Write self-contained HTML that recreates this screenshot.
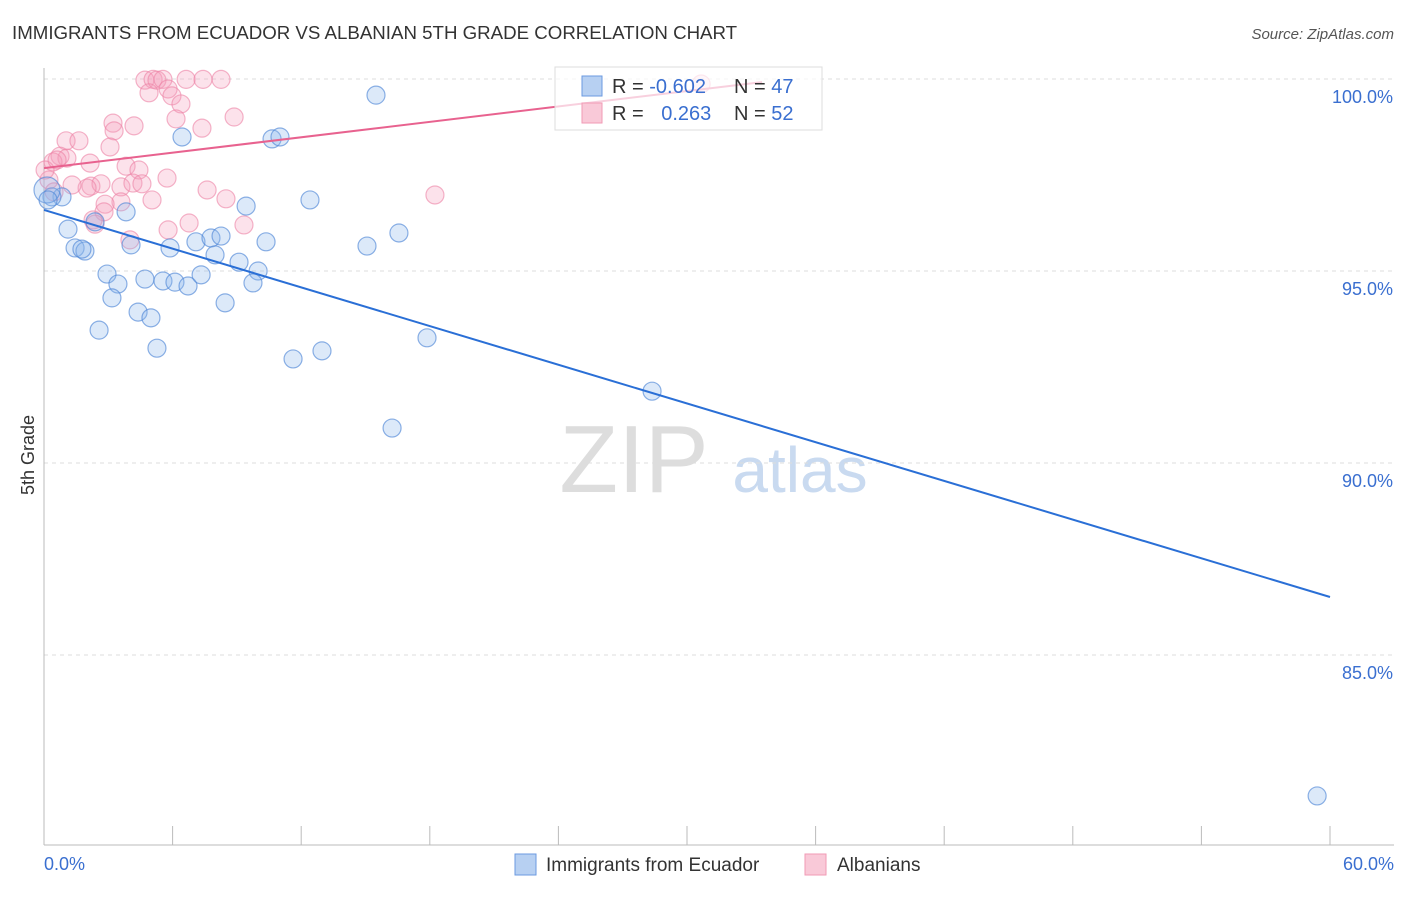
<!DOCTYPE html>
<html><head><meta charset="utf-8"><style>
body{margin:0;background:#fff;font-family:"Liberation Sans",sans-serif;}
svg text{font-family:"Liberation Sans",sans-serif;}
</style></head><body>
<svg id="chart" width="1406" height="892">
<text x="12" y="39" font-size="18.7" fill="#333">IMMIGRANTS FROM ECUADOR VS ALBANIAN 5TH GRADE CORRELATION CHART</text>
<text x="1394" y="39" font-size="15" fill="#555" font-style="italic" text-anchor="end">Source: ZipAtlas.com</text>
<text x="634" y="492" font-size="96" fill="#ddd" font-family="Liberation Serif" text-anchor="middle">ZIP</text>
<text x="800" y="492" font-size="64" fill="#c9daf0" text-anchor="middle">atlas</text>
<g id="grid"></g>
<g id="axes"></g>
<g id="pts"></g>
<g id="lines"></g>
<text x="34" y="455" font-size="18" fill="#333" text-anchor="middle" transform="rotate(-90 34 455)">5th Grade</text>
<g>
<rect x="555" y="67" width="267" height="63" fill="rgba(255,255,255,0.7)" stroke="#ddd"/>
<rect x="582" y="76" width="20" height="20" fill="#b7d0f2" stroke="#6b9ae0"/>
<rect x="582" y="103" width="20" height="20" fill="#f9c9d8" stroke="#f19ab5"/>
<text x="612" y="93" font-size="20" fill="#333">R = <tspan fill="#3a6fd0">-0.602</tspan></text>
<text x="734" y="93" font-size="20" fill="#333">N = <tspan fill="#3a6fd0">47</tspan></text>
<text x="612" y="120" font-size="20" fill="#333">R = <tspan fill="#3a6fd0" dx="12">0.263</tspan></text>
<text x="734" y="120" font-size="20" fill="#333">N = <tspan fill="#3a6fd0">52</tspan></text>
</g>
<g>
<rect x="515" y="854" width="21" height="21" fill="#b7d0f2" stroke="#6b9ae0"/>
<text x="546" y="871" font-size="19" fill="#333">Immigrants from Ecuador</text>
<rect x="805" y="854" width="21" height="21" fill="#f9c9d8" stroke="#f19ab5"/>
<text x="837" y="871" font-size="19" fill="#333">Albanians</text>
</g>
</svg>
<script>
const blueX=[15.49,6.44,10.64,11.01,12.41,9.43,3.83,0.84,0.37,1.12,2.38,1.45,1.91,1.77,4.06,5.88,7.09,7.79,8.26,10.36,15.07,16.56,7.98,9.10,9.99,2.94,4.71,5.55,6.11,6.72,7.33,3.45,9.75,3.17,8.45,4.39,4.99,2.57,5.27,11.62,12.97,17.87,16.24,28.37,59.40,0.14,0.19];
const blueY=[99.58,98.49,98.44,98.49,96.85,96.69,96.54,96.93,96.93,96.09,96.28,95.60,95.52,95.57,95.68,95.60,95.76,95.86,95.91,95.76,95.65,95.99,95.42,95.23,95.00,94.92,94.79,94.74,94.71,94.61,94.90,94.66,94.69,94.30,94.17,93.93,93.78,93.46,92.99,92.71,92.92,93.26,90.91,91.87,81.33,97.11,96.85];
const pinkX=[4.71,5.09,5.27,5.55,6.63,7.42,8.26,4.90,5.79,5.97,6.39,6.16,7.37,8.87,3.22,3.27,4.20,3.08,1.03,1.63,0.75,1.07,2.15,0.42,3.83,4.43,2.19,2.66,2.01,1.31,3.59,4.15,4.57,5.74,7.61,8.49,5.04,3.59,2.85,2.80,2.38,2.29,6.77,9.33,5.79,4.01,18.24,0.23,0.05,0.61,30.66,0.47];
const pinkY=[99.97,99.99,99.97,99.99,99.99,99.99,99.99,99.64,99.74,99.56,99.35,98.96,98.72,99.01,98.85,98.65,98.78,98.23,98.39,98.39,97.99,97.94,97.81,97.84,97.73,97.63,97.21,97.27,97.16,97.24,97.19,97.29,97.27,97.42,97.11,96.88,96.85,96.80,96.74,96.54,96.22,96.33,96.25,96.20,96.07,95.81,96.98,97.37,97.63,97.89,99.87,97.06];
const yTicks=[100,95,90,85];
const yTickLabels=["100.0%","95.0%","90.0%","85.0%"];
const xTicks=[0,6,12,18,24,30,36,42,48,54,60];
const blueLine=[[0,96.59],[60,86.51]];
const pinkLine=[[0,97.68],[33.5,99.92]];
const NS="http://www.w3.org/2000/svg";
const sx=v=>44+v/60*1286;
const sy=v=>79+(100-v)*38.4;
function mk(tag,attrs,parent){const e=document.createElementNS(NS,tag);for(const k in attrs)e.setAttribute(k,attrs[k]);parent.appendChild(e);return e;}
const grid=document.getElementById('grid'),axes=document.getElementById('axes'),pts=document.getElementById('pts'),lines=document.getElementById('lines');
yTicks.forEach((t,i)=>{
 const l=mk('line',{x1:44,x2:1394,y1:sy(t),y2:sy(t),stroke:'#ddd','stroke-dasharray':'4 4'},grid);
 
 
 const tx=mk('text',{x:1393,y:sy(t)+24,'font-size':18,fill:'#3a6fd0','text-anchor':'end'},axes);
 tx.textContent=yTickLabels[i];
 
 
});
const ax=mk('line',{x1:44,x2:1394,y1:845,y2:845,stroke:'#bbb'},axes);


const ay=mk('line',{x1:44,x2:44,y1:68,y2:845,stroke:'#bbb'},axes);


xTicks.forEach(t=>{
 const l=mk('line',{x1:sx(t),x2:sx(t),y1:826,y2:845,stroke:'#bbb'},axes);
 
 
});
const xl0=mk('text',{x:44,y:870,'font-size':18,fill:'#3a6fd0'},axes);xl0.textContent='0.0%';


const xl1=mk('text',{x:1394,y:870,'font-size':18,fill:'#3a6fd0','text-anchor':'end'},axes);xl1.textContent='60.0%';


pinkX.forEach((x,i)=>{
 const c=mk('circle',{cx:sx(x),cy:sy(pinkY[i]),r:9,fill:'rgba(244,160,188,0.3)',stroke:'rgba(236,130,165,0.6)','stroke-width':1.2},pts);
 
 
});
blueX.forEach((x,i)=>{
 const c=mk('circle',{cx:sx(x),cy:sy(blueY[i]),r:i==45?13:9,fill:'rgba(140,182,236,0.3)',stroke:'rgba(80,135,215,0.65)','stroke-width':1.2},pts);
 
 
});
const bl=mk('line',{x1:sx(blueLine[0][0]),y1:sy(blueLine[0][1]),x2:sx(blueLine[1][0]),y2:sy(blueLine[1][1]),stroke:'#2a6fd6','stroke-width':2},lines);


const pl=mk('line',{x1:sx(pinkLine[0][0]),y1:sy(pinkLine[0][1]),x2:sx(pinkLine[1][0]),y2:sy(pinkLine[1][1]),stroke:'#e8628f','stroke-width':2},lines);


</script>
</body></html>
